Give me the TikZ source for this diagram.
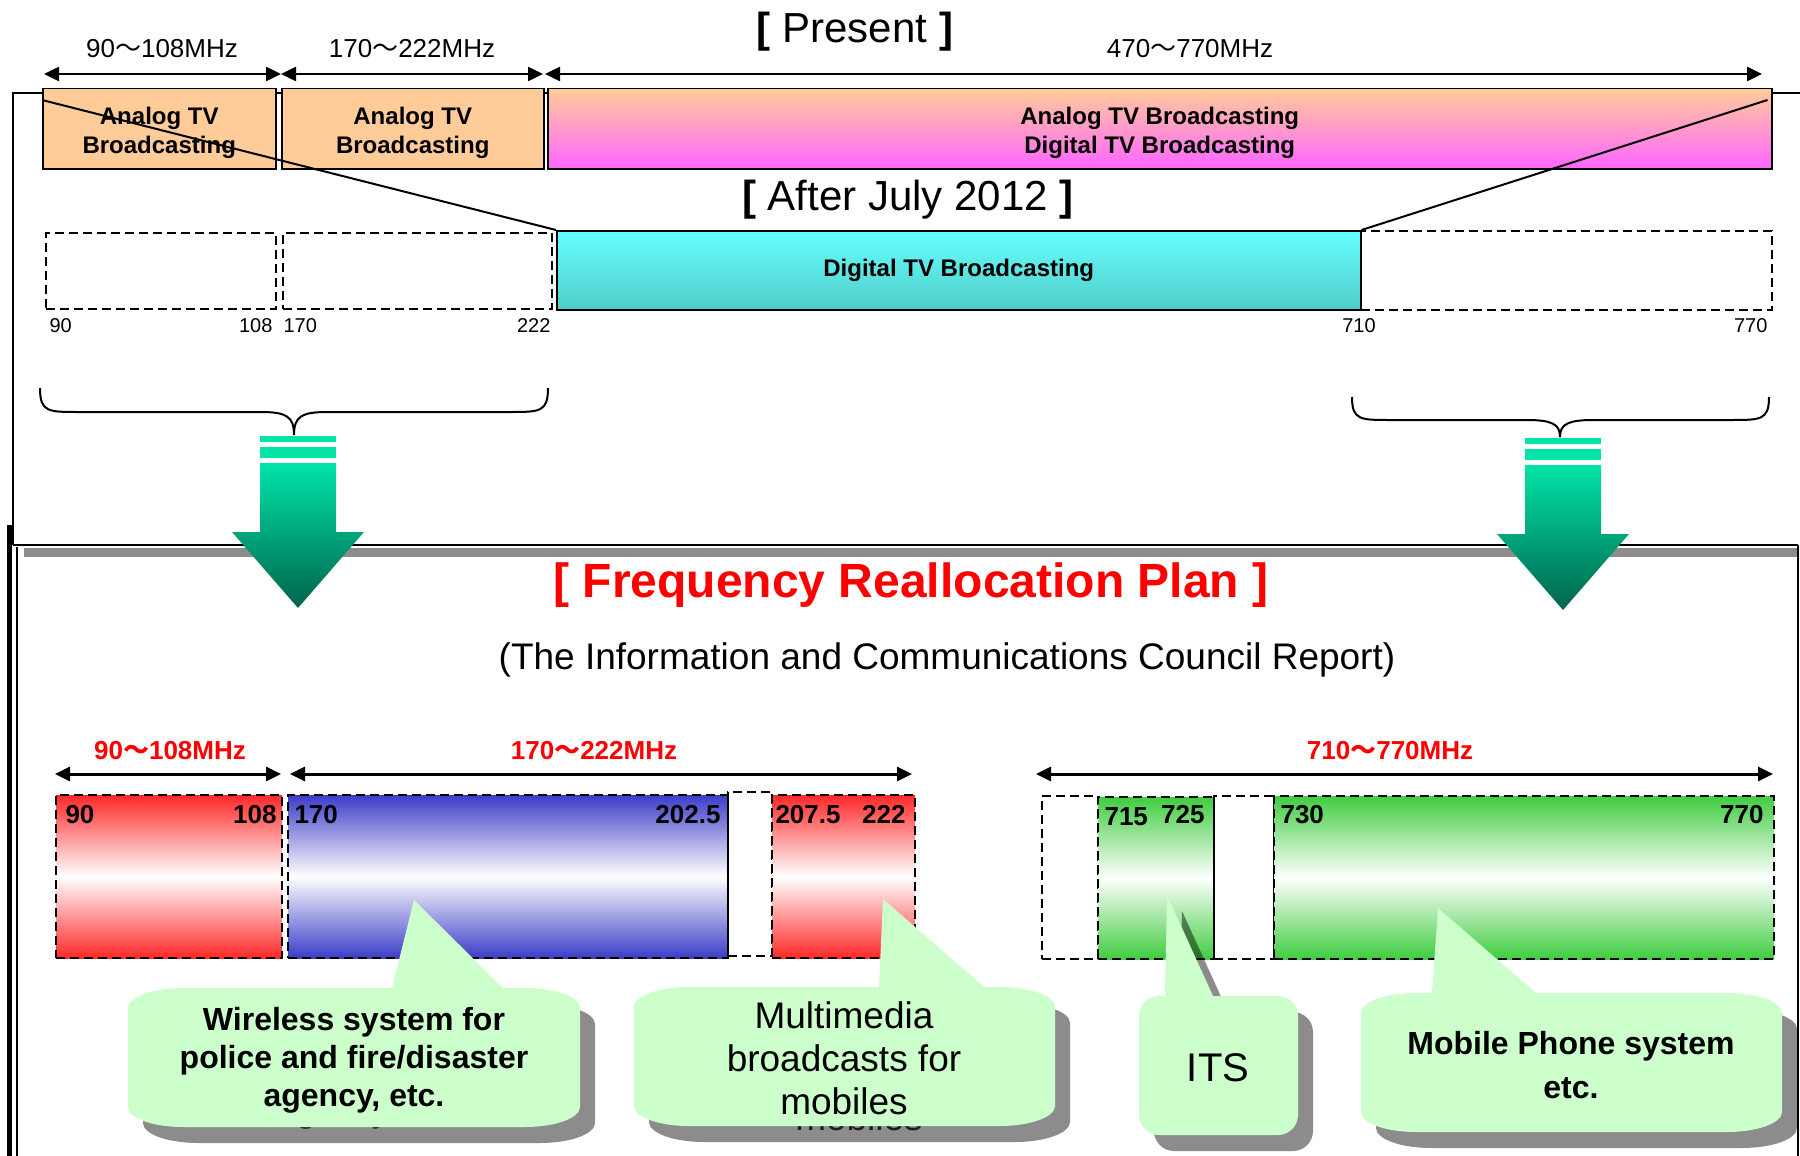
\documentclass[tikz,border=0pt]{standalone}
\usepackage{fontspec}
\setmainfont{Liberation Sans}
\newfontfamily\cjk{Noto Sans CJK JP}
\usetikzlibrary{arrows.meta}

\definecolor{peach}{RGB}{255,204,153}
\definecolor{pinkband}{RGB}{255,102,255}
\definecolor{cyanband}{RGB}{102,255,255}
\definecolor{tealband}{RGB}{80,205,200}
\definecolor{redband}{RGB}{255,40,40}
\definecolor{blueband}{RGB}{60,60,200}
\definecolor{greenband}{RGB}{64,204,64}
\definecolor{bubblegreen}{RGB}{204,255,204}
\definecolor{arrowtop}{RGB}{0,228,168}
\definecolor{arrowbot}{RGB}{0,100,75}
\definecolor{planred}{RGB}{255,0,0}

\newcommand{\wave}{{\cjk 〜}}

\tikzset{
  band/.style={rectangle, inner sep=0pt, anchor=north west, line width=1.5pt, align=center},
  slot/.style={band, draw, dash pattern=on 9pt off 5pt, line width=2pt},
  fade/.style={top color=#1, bottom color=#1, middle color=white},
  dim/.style={line width=2.5pt, {Triangle[length=15pt,width=14pt]}-{Triangle[length=15pt,width=14pt]}},
  boldtext/.style={font=\bfseries\fontsize{24}{29}\selectfont, align=center},
  mhz/.style={anchor=base, font=\fontsize{26}{30}\selectfont},
  edge/.style={anchor=base, font=\fontsize{20}{24}\selectfont},
  planmhz/.style={anchor=base, text=planred, font=\bfseries\fontsize{26}{30}\selectfont},
  planedge/.style={anchor=base, font=\bfseries\fontsize{26}{30}\selectfont},
  bubble/.style={fill=bubblegreen},
  shade text/.style={text=black, text opacity=0.8}
}

% callout outline: left, top, right, bottom, wedge from, wedge to, tip x, tip y, corner radius
\newcommand{\bubble}[9]{%
  \path[bubble] (#1,#2+20) arc[start angle=180,end angle=270,x radius=#9,y radius=20]
    -- (#5,#2) -- (#7,#8) -- (#6,#2)
    -- (#3-#9,#2) arc[start angle=270,end angle=360,x radius=#9,y radius=20]
    -- (#3,#4-20) arc[start angle=0,end angle=90,x radius=#9,y radius=20]
    -- (#1+#9,#4) arc[start angle=90,end angle=180,x radius=#9,y radius=20] -- cycle;}

% curly brace: x0, x1, tip x, end y, flat y, tip y
\newcommand{\curly}[6]{%
  \draw[line width=2pt] (#1,#4) .. controls (#1,#5) and (#1+8,#5) .. (#1+38,#5)
    -- (#3-34,#5) .. controls (#3-8,#5) and (#3,#5+4) .. (#3,#6)
    .. controls (#3,#5+4) and (#3+8,#5) .. (#3+34,#5)
    -- (#2-38,#5) .. controls (#2-8,#5) and (#2,#5) .. (#2,#4);}

% striped down arrow: centre x, top of first stripe
\newcommand{\dropArrow}[2]{%
  \fill[arrowtop] (#1-38,#2) rectangle (#1+38,#2+6);
  \fill[arrowtop] (#1-38,#2+11) rectangle (#1+38,#2+22);
  \shade[top color=arrowtop, bottom color=arrowbot] (#1-38,#2+27) -- (#1+38,#2+27)
    -- (#1+38,#2+96) -- (#1+66,#2+96) -- (#1,#2+172) -- (#1-66,#2+96)
    -- (#1-38,#2+96) -- cycle;}

\begin{document}
\begin{tikzpicture}[x=1pt,y=-1pt]
  \useasboundingbox (0,0) rectangle (1800,1156);
  \clip (0,0) rectangle (1800,1156);

  % frames
  \draw[line width=1.5pt] (1810,93) -- (13,93) -- (13,545);
  \fill (7,525) rectangle (12,1160);
  \draw[line width=1.5pt] (17,547) -- (17,1160);
  \fill[black, opacity=0.45] (24,548) rectangle (1797,557);
  \draw[line width=2.5pt] (13,545) -- (1798,545);
  \draw[line width=1.5pt] (1798,545) -- (1798,1160);

  % ---- present allocation ----
  \node[anchor=base, font=\fontsize{42}{48}\selectfont] (present) at (855,43) {\textbf{[} Present \textbf{]}};

  \coordinate (p90) at (44,74);
  \coordinate (p108) at (281,74);
  \coordinate (p222) at (543,74);
  \coordinate (p470) at (545,74);
  \coordinate (p770) at (1762,74);
  \draw[dim] (p90) -- (p108);
  \draw[dim] (p108) -- (p222);
  \draw[dim] (p470) -- (p770);
  \node[mhz] (vhflow) at (162,58) {90\wave108MHz};
  \node[mhz] (vhfhigh) at (412,58) {170\wave222MHz};
  \node[mhz] (uhf) at (1190,58) {470\wave770MHz};

  \node[band, draw, fill=peach, minimum width=233, minimum height=80] (analog1) at (42,88) {};
  \node[band, draw, fill=peach, minimum width=262, minimum height=80] (analog2) at (281,88) {};
  \node[band, draw, top color=peach, bottom color=pinkband, minimum width=1224, minimum height=80] (mixed) at (547,88) {};
  \node[boldtext] (analog1text) at ([yshift=-4pt]analog1.center) {Analog TV\\Broadcasting};
  \node[boldtext] (analog2text) at ([yshift=-4pt]analog2.center) {Analog TV\\Broadcasting};
  \node[boldtext] (mixedtext) at ([yshift=-4pt]mixed.center) {Analog TV Broadcasting\\Digital TV Broadcasting};

  % ---- after July 2012 ----
  \node[anchor=base, font=\fontsize{42}{48}\selectfont] (after) at (908,210) {\textbf{[} After July 2012 \textbf{]}};

  \node[slot, minimum width=230, minimum height=76] (free1) at (45,232) {};
  \node[slot, minimum width=269, minimum height=76] (free2) at (282,232) {};
  \node[slot, minimum width=411, minimum height=79] (free3) at (1360,230) {};
  \node[band, draw, top color=cyanband, bottom color=tealband, minimum width=804, minimum height=79, boldtext] (digital) at (556,230) {Digital TV Broadcasting};

  \node[edge, anchor=base west] (e90) at (46,332) {90};
  \node[edge, anchor=base east] (e108) at (276,332) {108};
  \node[edge, anchor=base west] (e170) at (280,332) {170};
  \node[edge, anchor=base east] (e222) at (554,332) {222};
  \node[edge] (e710) at (1359,332) {710};
  \node[edge, anchor=base east] (e770) at (1771,332) {770};

  \draw[line width=2pt] ([yshift=-12pt]analog1.north west) -- (digital.north west);
  \draw[line width=2pt] (digital.north east) -- ([xshift=-5pt,yshift=-12pt]mixed.north east);

  \curly{40}{548}{294}{388}{412}{435}
  \curly{1352}{1769}{1560}{397}{420}{437}

  % ---- reallocation plan ----
  \node[anchor=base, text=planred, font=\bfseries\fontsize{48}{56}\selectfont] (plan) at (911,597) {[ Frequency Reallocation Plan ]};
  \node[anchor=base, font=\fontsize{37}{44}\selectfont] (report) at (947,669) {(The Information and Communications Council Report)};

  \coordinate (q90) at (55,774);
  \coordinate (q108) at (281,774);
  \coordinate (q170) at (290,774);
  \coordinate (q222) at (912,774);
  \coordinate (q710) at (1036,774);
  \coordinate (q770) at (1773,774);
  \draw[dim, line width=3pt] (q90) -- (q108);
  \draw[dim, line width=3pt] (q170) -- (q222);
  \draw[dim, line width=3pt] (q710) -- (q770);
  \node[planmhz] (newlow) at (170,759) {90\wave108MHz};
  \node[planmhz] (newhigh) at (594,759) {170\wave222MHz};
  \node[planmhz] (newuhf) at (1390,759) {710\wave770MHz};

  \node[slot, fade=redband, minimum width=226, minimum height=163] (police1) at (55,794) {};
  \node[slot, fade=blueband, minimum width=440, minimum height=163] (police2) at (287,794) {};
  \node[slot, minimum width=44, minimum height=164] (guard1) at (727,791) {};
  \node[slot, fade=redband, minimum width=143, minimum height=163] (mmb) at (771,794) {};
  \node[slot, minimum width=56, minimum height=163] (guard2) at (1041,795) {};
  \node[slot, fade=greenband, minimum width=116, minimum height=162] (its) at (1097,796) {};
  \node[slot, minimum width=60, minimum height=163] (guard3) at (1213,795) {};
  \node[slot, fade=greenband, minimum width=500, minimum height=163] (mobile) at (1273,795) {};

  \node[planedge, anchor=base west] (n90) at (62,823) {90};
  \node[planedge, anchor=base east] (n108) at (280,823) {108};
  \node[planedge, anchor=base west] (n170) at (291,823) {170};
  \node[planedge, anchor=base east] (n2025) at (724,823) {202.5};
  \node[planedge, anchor=base west] (n2075) at (772,823) {207.5};
  \node[planedge, anchor=base east] (n222) at (909,823) {222};
  \node[planedge, anchor=base west] (n715) at (1101,825) {715};
  \node[planedge, anchor=base east] (n725) at (1208,823) {725};
  \node[planedge, anchor=base west] (n730) at (1277,823) {730};
  \node[planedge, anchor=base east] (n770) at (1767,823) {770};

  % band arrows
  \dropArrow{298}{436}
  \dropArrow{1563}{438}

  % callout shadows
  \begin{scope}[shift={(15,16)}, bubble/.style={fill=black, opacity=0.45}]
    \bubble{128}{988}{580}{1127}{392}{392}{392}{988}{55}
    \bubble{634}{987}{1055}{1126}{879}{879}{879}{987}{55}
    \bubble{1139}{996}{1298}{1135}{1165}{1213}{1167}{895}{20}
    \bubble{1361}{993}{1782}{1132}{1432}{1432}{1432}{993}{55}
    \node[shade text, align=center, font=\bfseries\fontsize{32}{38}\selectfont] (policeshade) at (354,1060) {Wireless system for\\police and fire/disaster\\agency, etc.};
    \node[shade text, align=center, font=\fontsize{37}{43}\selectfont] (mmbshade) at (844,1058) {Multimedia\\broadcasts for\\mobiles};
  \end{scope}

  % callouts
  \bubble{128}{988}{580}{1127}{392}{503}{414}{900}{55}
  \bubble{634}{987}{1055}{1126}{879}{984}{883}{899}{55}
  \bubble{1139}{996}{1298}{1135}{1165}{1213}{1167}{895}{20}
  \bubble{1361}{993}{1782}{1132}{1432}{1536}{1438}{908}{55}

  \node[align=center, font=\bfseries\fontsize{32}{38}\selectfont] (policetext) at (354,1060) {Wireless system for\\police and fire/disaster\\agency, etc.};
  \node[align=center, font=\fontsize{37}{43}\selectfont] (mmbtext) at (844,1058) {Multimedia\\broadcasts for\\mobiles};
  \node[font=\fontsize{40}{46}\selectfont] (itstext) at (1218,1068) {ITS};
  \node[align=center, font=\bfseries\fontsize{32}{44}\selectfont] (mobiletext) at (1571,1065) {Mobile Phone system\\etc.};
\end{tikzpicture}
\end{document}
